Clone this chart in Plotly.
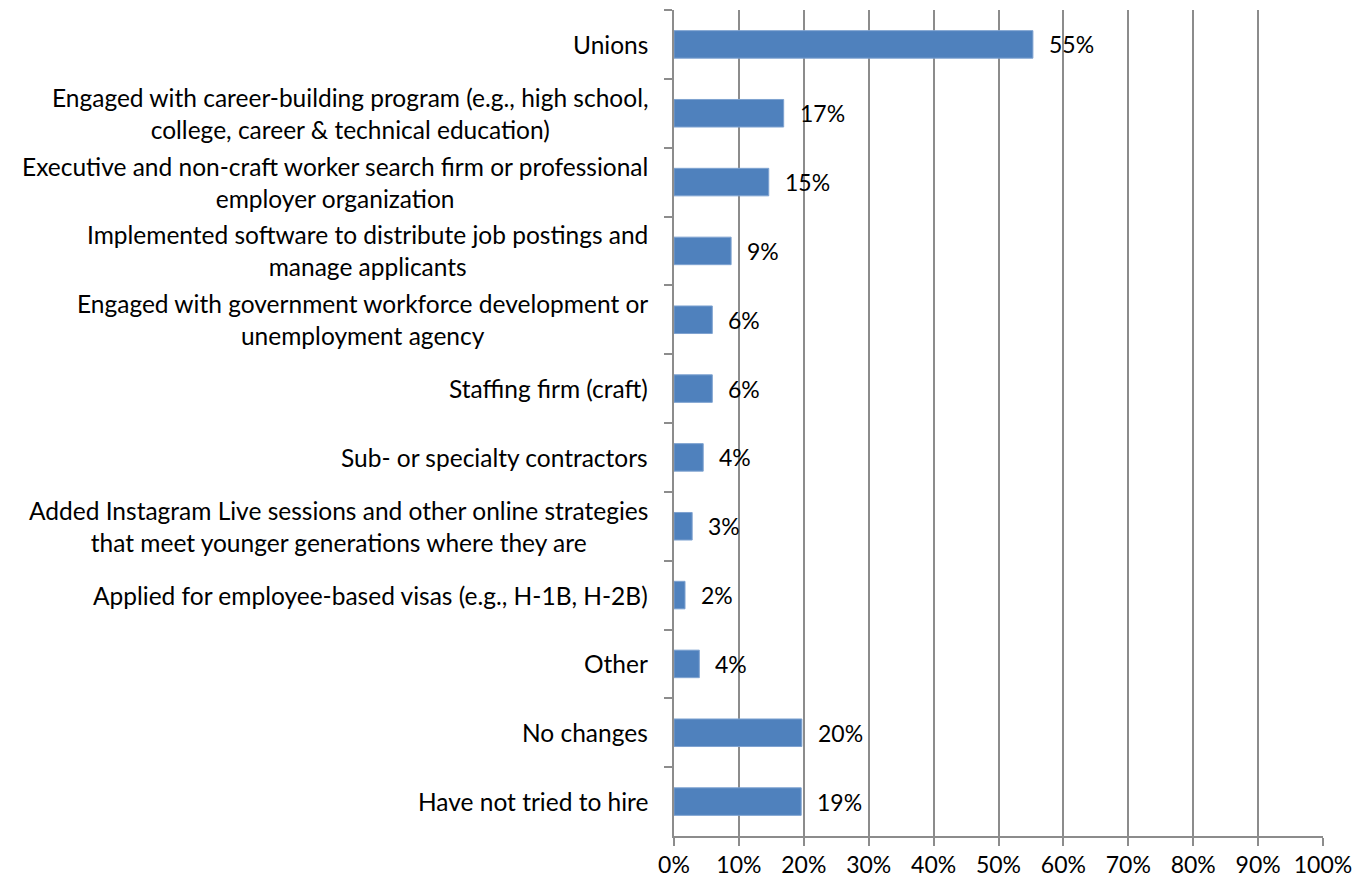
import plotly.graph_objects as go

categories = [
    "Unions",
    "Engaged with career-building program (e.g., high school,<br>college, career & technical education)",
    "Executive and non-craft worker search firm or professional<br>employer organization",
    "Implemented software to distribute job postings and<br>manage applicants",
    "Engaged with government workforce development or<br>unemployment agency",
    "Staffing firm (craft)",
    "Sub- or specialty contractors",
    "Added Instagram Live sessions and other online strategies<br>that meet younger generations where they are",
    "Applied for employee-based visas (e.g., H-1B, H-2B)",
    "Other",
    "No changes",
    "Have not tried to hire",
]
values = [55.3, 16.9, 14.6, 8.8, 5.9, 5.9, 4.5, 2.8, 1.7, 3.9, 19.7, 19.6]
labels = ["55%", "17%", "15%", "9%", "6%", "6%", "4%", "3%", "2%", "4%", "20%", "19%"]
x_ticks = list(range(0, 101, 10))

FONT = "Lato, Carlito, Calibri, sans-serif"
GRID = "#8c8c8c"

fig = go.Figure()
fig.add_trace(go.Bar(
    x=values, y=categories, orientation="h",
    marker=dict(color="#4F81BD", line=dict(color="#7EA2D0", width=1)),
    hoverinfo="skip",
))
for v, c, t in zip(values, categories, labels):
    fig.add_annotation(x=v, y=c, text=t, showarrow=False, xanchor="left",
                       xshift=14, font=dict(family=FONT, size=23, color="black"))
for c in categories:
    fig.add_annotation(x=0, xref="paper", y=c, text=c, showarrow=False,
                       xanchor="right", align="center", xshift=-24,
                       font=dict(family=FONT, size=24.5, color="black"))

fig.update_layout(
    width=1362, height=872,
    margin=dict(l=666, r=47, t=2, b=37),
    plot_bgcolor="white", paper_bgcolor="white",
    bargap=0.6, showlegend=False,
    font=dict(family=FONT, size=23, color="black"),
)
fig.update_xaxes(
    range=[0, 100], tickvals=x_ticks, ticktext=[f"{v}%" for v in x_ticks],
    showgrid=True, gridcolor=GRID, gridwidth=1.5,
    showline=True, linecolor=GRID, linewidth=1.5,
    ticks="outside", ticklen=8, tickcolor=GRID, tickwidth=1.5,
    zeroline=False, tickfont=dict(size=23),
)
fig.update_yaxes(
    autorange="reversed", type="category", tickson="boundaries",
    showline=True, linecolor=GRID, linewidth=1.5,
    ticks="outside", ticklen=8, tickcolor=GRID, tickwidth=1.5,
    showgrid=False, showticklabels=False,
)
fig.write_html("out.html")
